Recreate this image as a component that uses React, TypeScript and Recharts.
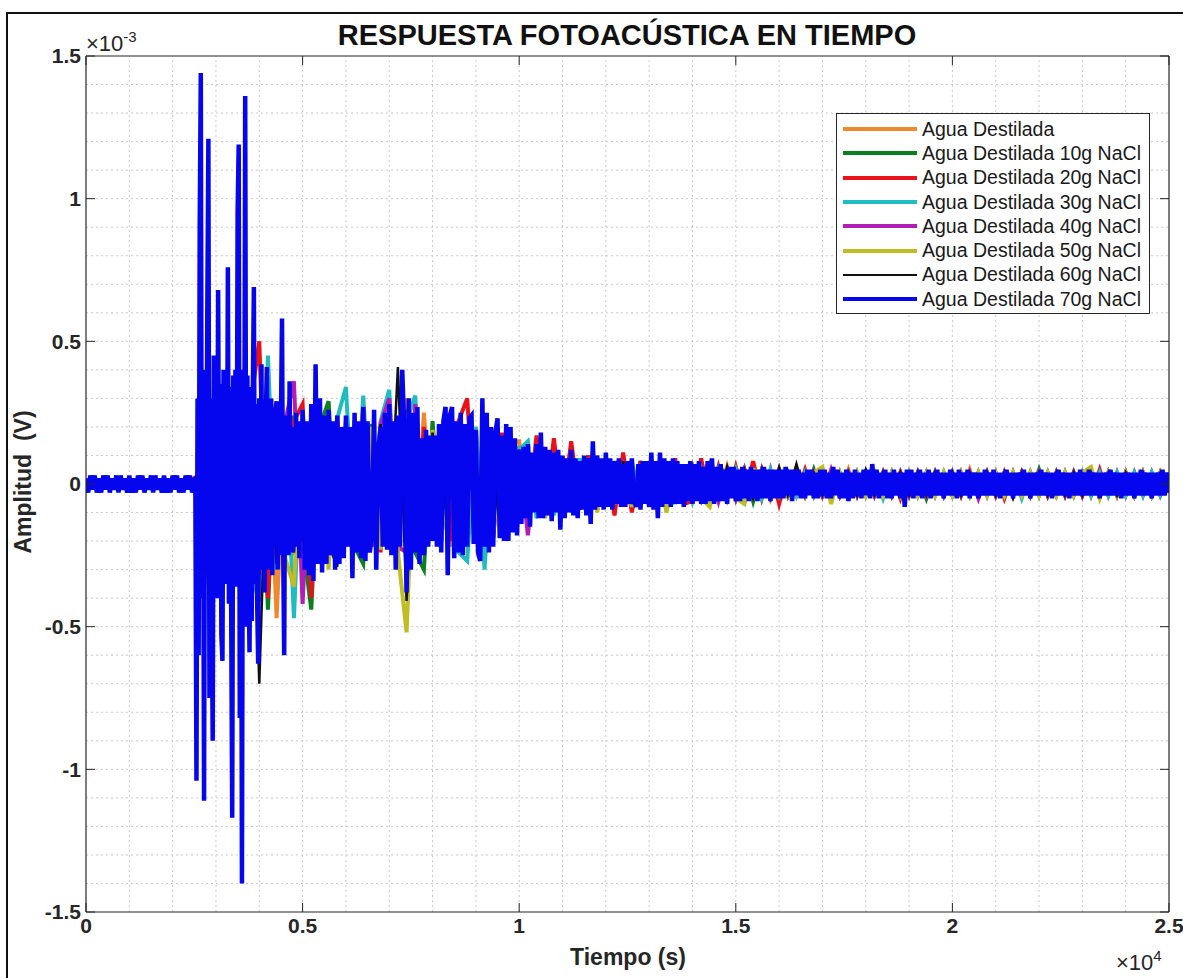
import { LineChart, Line, XAxis, YAxis, ReferenceLine } from "recharts";

// time in samples (axis shows x10^4), amplitude in units of 1e-5 V (axis shows x10^-3 V)
const SERIES_NAMES = [
  "Agua Destilada",
  "Agua Destilada 10g NaCl",
  "Agua Destilada 20g NaCl",
  "Agua Destilada 30g NaCl",
  "Agua Destilada 40g NaCl",
  "Agua Destilada 50g NaCl",
  "Agua Destilada 60g NaCl",
  "Agua Destilada 70g NaCl",
];
const SERIES_COLORS = ["#EE8A2A", "#0B8020", "#E8131A", "#20BCC0", "#B41CB8", "#BFBD22", "#111111", "#0505EE"];
const SERIES_WIDTHS = [4, 4, 4, 4, 4, 4, 2.5, 4.5];

const X_TICKS = [0, 5000, 10000, 15000, 20000, 25000];
const Y_TICKS = [-1.5, -1, -0.5, 0, 0.5, 1, 1.5];

// 70g NaCl trace (drawn on top), read at three densities
// t = 0..2450, every 50
const BLUE_PRE = [
  2, -3, 3, -2, 3, -3, 2, -3, 3, -2, 3, -3, 2, -2, 3, -3, 3, -2, 2, -3,
  3, -3, 2, -3, 3, -2, 3, -3, 2, -2, 3, -3, 3, -2, 2, -3, 3, -3, 2, -3,
  3, -2, 3, -3, 2, -3, 3, -2, 3, -3,
];
// t = 2500..4975, every 25
const BLUE_ATTACK = [
  2, -3, -104, 30, -60, 90, 144, -40, 35, -111,
  40, -30, 60, 121, -75, 30, -35, -90, 45, -25,
  38, -40, 68, -20, 35, -53, -62, 40, -28, 36,
  -35, 76, -42, 34, -38, -117, 38, -30, 40, -36,
  95, 119, -82, 36, -140, 40, -35, 136, -50, 38,
  -30, -59, 34, -48, 30, 69, -35, 28, -40, -63,
  30, -25, 42, -30, 28, -38, 22, 41, -30, 25,
  -28, 30, -32, 24, -22, 26, 29, -30, 20, -25,
  22, 58, -20, -60, 24, -22, 20, -25, 36, -20,
  18, -24, 20, -22, 25, -18, 20, -26, 22, -20,
];
// t = 5000..25000, every 50
const BLUE_DECAY = [
  26, -30, 22, -32, 28, -34, 42, -28, 30, -31, 24, -28, 26, -25, 22, -30, 24, -28, 20, -26,
  24, -22, 20, -33, 25, -24, 22, -26, 27, -27, 22, -24, -18, 26, -30, 12, 20, -22, 25, -23,
  28, -25, 22, -30, 24, -22, 40, 18, -38, 30, -30, 25, -24, 27, -28, 16, -25, 19, -22, 17,
  -20, 17, -22, 21, -24, 22, 27, -32, 24, 27, -26, 22, -24, 25, -25, 21, -22, 23, 24, -21,
  19, -24, -27, 30, -22, 25, -24, 20, -22, 18, 23, -19, 17, -20, 21, -20, 20, -17, 16, -18,
  12, -14, 13, -12, 14, -15, 11, -10, 14, -12, 18, -12, 13, -11, 12, -13, 11, -10, 12, -16,
  10, -12, 9, -10, 12, -11, 9, -12, 8, -9, 10, -11, 9, -14, 15, -9, 10, -8, 9, -9,
  11, -8, 9, -9, 8, -7, 9, -8, 7, -8, 8, -7, 9, -6, -8, 7, -9, 8, -7, 8,
  -8, 11, -9, 8, -12, 11, -8, 9, -7, 8, -8, 9, -7, 8, -7, 7, -8, 7, -6, 8,
  -7, 7, -6, 8, -7, 6, -7, 8, -6, 9, -7, 6, -6, 7, -6, 5, -7, 6, -5, 6,
  -6, 5, -6, 6, -5, 5, -6, 6, -5, 5, -6, 5, -5, 6, -5, 5, -6, 5, -5, 5,
  -5, 5, -5, 6, -4, 5, -6, 5, -4, 5, -5, 4, -5, 5, -4, 5, -5, 4, -5, 5,
  -4, 5, -5, 4, -5, 6, -4, 5, -5, 4, -5, 5, -6, 4, -5, 5, -4, 4, -5, 5,
  -4, 5, -5, 7, -4, 5, -5, 4, -4, 5, -5, 4, -5, 5, -4, 4, -5, 4, -8, 5,
  -4, 5, -5, 4, -4, 5, -5, 4, -4, 5, -5, 4, -4, 5, -4, 4, -5, 4, -4, 5,
  -4, 4, -5, 5, -4, 4, -4, 5, -5, 4, -4, 4, -5, 4, -4, 5, -4, 4, -4, 5,
  -4, 4, -5, 4, -4, 5, -4, 4, -5, 4, -4, 4, -4, 5, -4, 4, -5, 4, -4, 4,
  -4, 5, -4, 4, -4, 4, -5, 4, -4, 5, -4, 4, -4, 4, -5, 4, -4, 4, -4, 5,
  -4, 4, -4, 5, -4, 4, -4, 4, -5, 4, -4, 4, -4, 5, -4, 4, -4, 4, -5, 4,
  -4, 4, -4, 4, -5, 4, -4, 5, -4, 4, -4, 4, -5, 4, -4, 4, -4, 5, -4, 4,
  -3,
];

// the other traces, every 200 samples from t = 0 to 25000
const AGUA = [
  1, -1, 2, -1, 1, -1, 2, -1, 1, -1,
  1, -1, 1, 3, -35, 28, -30, 32, -33, 30,
  -30, 28, -47, 22, -25, 20, -26, 18, -24, 20,
  -22, 18, -20, 21, -22, 24, -26, 30, -24, 25,
  -18, 20, -22, 21, -20, 18, -22, 18, -16, 15,
  15, -12, 11, -10, 12, -11, 10, -9, 10, -9,
  8, -7, 8, -8, 7, -7, 8, -7, 7, -6,
  6, -6, 6, -5, 6, -5, 5, -5, 5, -4,
  5, -4, 4, -4, 4, -4, 4, -4, 5, -4,
  4, -4, 4, -4, 4, -4, 4, -4, 4, -4,
  4, -4, 5, -4, 4, -4, 4, -4, 4, -4,
  4, -4, 4, -4, 4, -4, 4, -4, 4, -4,
  4, -4, 4, -4, 4, -3,
];
const NACL_10 = [
  -1, 1, -1, 1, -1, 1, -1, 1, -1, 1,
  -1, 1, -1, -3, 30, -34, 28, -30, 31, -29,
  30, -44, 25, -22, 24, -20, -44, 20, 29, -22,
  20, -22, -28, 21, -20, 24, -22, 26, -24, -30,
  22, -20, 21, -22, 20, -19, 20, -18, 16, -15,
  13, -12, 12, -11, 10, -10, 9, -9, 10, -8,
  8, -8, 7, -7, 8, -6, 7, -7, 6, -6,
  6, -5, 6, -5, 5, -5, 5, -6, 5, -4,
  4, -4, 4, -4, 5, -4, 4, -4, 4, -4,
  4, -4, 4, -4, 4, -4, 4, -5, 4, -4,
  4, -4, 4, -4, 4, -4, 4, -4, 4, -4,
  5, -4, 4, -4, 4, -4, 4, -4, 4, -4,
  4, -4, 4, -4, 4, -2,
];
const NACL_20 = [
  1, -1, 1, -1, 2, -1, 1, -1, 1, -1,
  2, -1, 1, 3, -30, 32, -31, 30, -34, 28,
  50, -40, 26, -24, 22, 28, -40, 22, -22, 24,
  -21, 22, -23, 20, -24, 22, -21, 24, -22, 20,
  -18, 21, -20, 22, 30, -18, 20, -19, 18, -16,
  12, -11, 17, -10, 16, -9, 15, -8, 10, -9,
  9, -11, 11, -10, 8, -8, 7, -7, 9, -7,
  -6, 9, -6, 6, -5, 6, -5, 8, -5, 5,
  -7, 4, -4, 5, -4, 4, -4, 4, -4, 4,
  -4, 4, -4, 4, -5, 4, -4, 4, -4, 4,
  -4, 4, -4, 4, -4, 4, -5, 4, -4, 4,
  -4, 4, -4, 4, -4, 4, -4, 5, -4, 4,
  -4, 4, -4, 4, -4, 3,
];
const NACL_30 = [
  -1, 1, -1, 1, -1, 1, -1, 1, -1, 1,
  -1, 1, -1, -3, 33, -28, 30, -32, 29, -31,
  -41, 45, -30, 24, -47, 26, -24, 20, -22, 23,
  34, -22, 31, -20, 22, 33, -24, 22, 31, -21,
  18, -20, 21, -24, -27, 20, -30, 18, -16, 14,
  12, 15, -12, 10, -11, 9, -10, 9, -8, 9,
  -8, 8, -7, 8, -7, 7, -7, 6, -7, 6,
  -6, 5, -6, 5, -5, 5, -5, 4, -5, 5,
  -4, 4, -4, 4, -4, 4, -4, 4, -4, 4,
  -4, 4, -5, 4, -4, 4, -4, 4, -4, 4,
  -4, 4, -4, 4, -4, 4, -4, 4, -5, 4,
  -4, 4, -4, 4, -4, 4, -4, 4, -4, 4,
  -4, 4, -4, 4, -4, 2,
];
const NACL_40 = [
  1, -1, 1, -1, 1, -1, 1, -1, 1, -1,
  1, -1, 1, 3, -33, 30, -29, 31, -30, 32,
  -32, 28, -26, 22, 36, -42, 24, -22, 25, -21,
  22, -20, 27, -22, 21, 30, -22, -24, 28, -20,
  18, -20, 22, -19, 18, -20, 19, -17, 15, -14,
  12, -18, 11, -11, 10, -10, 9, -9, 8, -9,
  8, -7, 7, -8, 7, -6, 7, -7, 6, -6,
  6, -5, 5, -6, 5, -5, 5, -4, 5, -5,
  4, -4, 4, -4, 4, -4, 5, -4, 4, -4,
  4, -4, 4, -4, 4, -4, 4, -4, 4, -4,
  4, -4, 4, -5, 4, -4, 4, -4, 4, -4,
  4, -4, 4, -4, 4, -4, 4, -4, 4, -4,
  4, -4, 4, -4, 4, -2,
];
const NACL_50 = [
  -1, 1, -1, 1, -1, 1, -1, 1, -1, 1,
  -1, 1, -1, -3, 30, -29, 33, -30, 28, -32,
  30, -28, 24, -26, -36, 22, -24, 21, -30, 20,
  -21, 20, -22, 20, -23, 22, -24, -52, 24, -20,
  19, -21, 20, -22, 18, -20, 19, -18, 15, -13,
  12, -11, 10, -12, 10, -11, 9, -9, 8, -10,
  8, -7, 7, -8, 7, -7, 6, -10, 6, -6,
  6, -5, -8, 5, 5, -5, -7, 5, 4, -5,
  4, -4, 4, -4, 4, 6, -7, 4, -4, 4,
  -4, 4, -4, 4, -4, 4, -4, 4, -4, 4,
  -4, 4, -4, 4, -4, 4, -4, 4, -4, 4,
  -4, 4, -4, 4, -4, 4, 6, -5, 4, -4,
  4, -4, 4, -4, 4, -2,
];
const NACL_60 = [
  1, -1, 1, -1, 1, -1, 1, -1, 1, -1,
  1, -1, 1, 3, -31, 29, -30, 28, -32, 30,
  -70, 26, -28, 22, -24, 20, -22, 20, -21, -29,
  20, -21, 22, -20, 21, -22, 41, -41, 22, -20,
  18, -19, 20, -21, 19, -18, 20, -17, 16, -14,
  12, -11, 11, -10, 10, -9, 10, -9, 9, -8,
  8, -7, 8, -7, 7, -7, 6, -6, 6, -6,
  6, -5, 5, -5, 6, -5, 5, -5, 5, -5,
  6, -4, 7, -4, 4, -4, 4, -4, 4, -4,
  5, -4, 4, -4, 4, -4, 4, -4, 4, -4,
  4, -4, 4, -4, 4, -4, 4, -5, 4, -4,
  4, -4, 4, -4, 4, -4, 4, -4, 4, -4,
  4, -4, 4, -4, 4, -3,
];

const toPoints = (vals: number[], start: number, step: number) =>
  vals.map((v, i) => ({ t: start + i * step, v: v / 100 }));

const SERIES_DATA = [
  toPoints(AGUA, 0, 200),
  toPoints(NACL_10, 0, 200),
  toPoints(NACL_20, 0, 200),
  toPoints(NACL_30, 0, 200),
  toPoints(NACL_40, 0, 200),
  toPoints(NACL_50, 0, 200),
  toPoints(NACL_60, 0, 200),
  [...toPoints(BLUE_PRE, 0, 50), ...toPoints(BLUE_ATTACK, 2500, 25), ...toPoints(BLUE_DECAY, 5000, 50)],
];

// minor grid every 1000 samples / 0.1e-3 V
const X_GRID = Array.from({ length: 24 }, (_, i) => (i + 1) * 1000);
const Y_GRID = Array.from({ length: 29 }, (_, i) => (i - 14) / 10);

const FONT = "'Liberation Sans', Arial, Helvetica, sans-serif";
const AXIS = "#262626";
const GRID = "#c9c9c9";

function LegendBox() {
  return (
    <div
      style={{
        position: "absolute", left: 836, top: 113, width: 312, height: 196,
        border: `1px solid ${AXIS}`, background: "#fff", paddingTop: 3, boxSizing: "content-box",
      }}
    >
      {SERIES_NAMES.map((name, i) => (
        <div key={name} style={{ height: 24.3, display: "flex", alignItems: "center" }}>
          <div style={{ marginLeft: 6, width: 74, height: SERIES_WIDTHS[i], background: SERIES_COLORS[i] }} />
          <span style={{ marginLeft: 5, fontSize: 19.5, color: "#1a1a1a", whiteSpace: "nowrap" }}>{name}</span>
        </div>
      ))}
    </div>
  );
}

function Multiplier({ left, top, exp }: { left: number; top: number; exp: string }) {
  return (
    <div style={{ position: "absolute", left, top, height: 24, whiteSpace: "nowrap", color: AXIS }}>
      <span style={{ fontSize: 22, lineHeight: "22px" }}>×10</span>
      <span style={{ fontSize: 15, lineHeight: "15px", position: "relative", top: -9 }}>{exp}</span>
    </div>
  );
}

export default function App() {
  const tickStyle = { fill: AXIS, fontSize: 21, fontWeight: 700, fontFamily: FONT };
  return (
    <div style={{ position: "absolute", left: 0, top: 0, width: 1183, height: 978, overflow: "hidden", background: "#fff", fontFamily: FONT }}>
      <div style={{ position: "absolute", left: 6, top: 12, width: 1200, height: 1000, border: "2px solid #111" }} />
      <div style={{ position: "absolute", left: 0, top: 0 }}>
        <LineChart width={1183} height={978} margin={{ top: 55, right: 13, bottom: 26, left: 20 }}>
          {X_GRID.map((x) => (
            <ReferenceLine key={"gx" + x} x={x} stroke={GRID} strokeWidth={1} strokeDasharray="2 3" />
          ))}
          {Y_GRID.map((y) => (
            <ReferenceLine key={"gy" + y} y={y} stroke={GRID} strokeWidth={1} strokeDasharray="2 3" />
          ))}
          <XAxis
            dataKey="t" type="number" domain={[0, 25000]} ticks={X_TICKS} interval={0} allowDataOverflow
            tickFormatter={(v) => String(v / 10000)} tickSize={-9} tickMargin={15} height={40}
            axisLine={{ stroke: AXIS, strokeWidth: 1.2 }} tickLine={{ stroke: AXIS }} tick={tickStyle}
          />
          <XAxis
            xAxisId="top" orientation="top" dataKey="t" type="number" domain={[0, 25000]} ticks={X_TICKS}
            interval={0} allowDataOverflow tickFormatter={() => ""} tickSize={-9} height={1}
            axisLine={{ stroke: AXIS, strokeWidth: 1.2 }} tickLine={{ stroke: AXIS }}
          />
          <YAxis
            type="number" domain={[-1.5, 1.5]} ticks={Y_TICKS} interval={0} allowDataOverflow
            tickFormatter={(v) => String(v)} tickSize={-9} tickMargin={14} width={66}
            axisLine={{ stroke: AXIS, strokeWidth: 1.2 }} tickLine={{ stroke: AXIS }} tick={tickStyle}
          />
          <YAxis
            yAxisId="right" orientation="right" type="number" domain={[-1.5, 1.5]} ticks={Y_TICKS}
            interval={0} allowDataOverflow tickFormatter={() => ""} tickSize={-9} width={1}
            axisLine={{ stroke: AXIS, strokeWidth: 1.2 }} tickLine={{ stroke: AXIS }}
          />
          {SERIES_NAMES.map((name, i) => (
            <Line
              key={name} name={name} data={SERIES_DATA[i]} dataKey="v" type="linear"
              stroke={SERIES_COLORS[i]} strokeWidth={SERIES_WIDTHS[i]} dot={false} activeDot={false}
              isAnimationActive={false}
            />
          ))}
        </LineChart>
      </div>

      <div style={{ position: "absolute", left: 227, top: 21, width: 800, textAlign: "center", fontSize: 29, lineHeight: "29px", fontWeight: 700, color: "#111" }}>
        RESPUESTA FOTOACÚSTICA EN TIEMPO
      </div>
      <Multiplier left={86} top={33} exp="-3" />
      <Multiplier left={1116} top={952} exp="4" />
      <div style={{ position: "absolute", left: 228, top: 946, width: 800, textAlign: "center", fontSize: 23, lineHeight: "23px", fontWeight: 700, color: AXIS }}>
        Tiempo (s)
      </div>
      <div
        style={{
          position: "absolute", left: -123, top: 467, width: 300, height: 30, textAlign: "center",
          fontSize: 23, lineHeight: "23px", fontWeight: 700, color: AXIS, transform: "rotate(-90deg)",
        }}
      >
        Amplitud&nbsp;&nbsp;(V)
      </div>
      <LegendBox />
    </div>
  );
}
